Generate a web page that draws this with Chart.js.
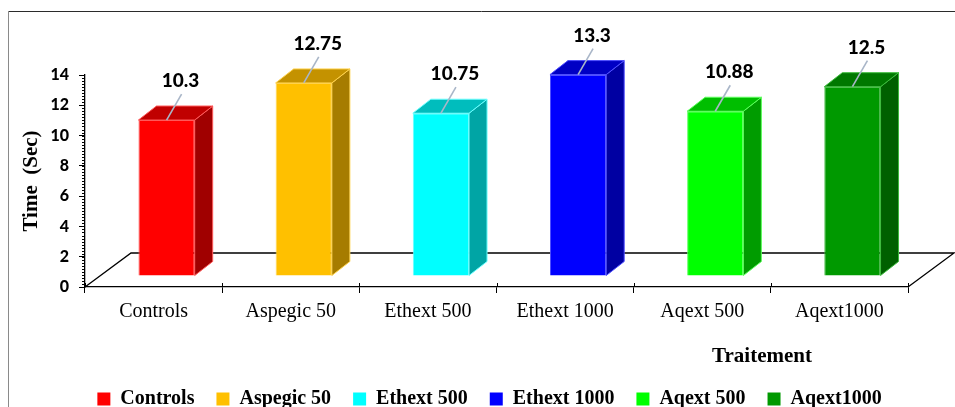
<!DOCTYPE html>
<html>
<head>
<meta charset="utf-8">
<script src="https://cdn.jsdelivr.net/npm/chart.js@4/dist/chart.umd.min.js"></script>
<style>
  html, body { margin: 0; padding: 0; background: #ffffff; }
  canvas { display: block; }
</style>
</head>
<body>
<canvas id="chart" width="955" height="407"></canvas>
<script>
// Treatment groups and mean response time (seconds)
const categories = ['Controls', 'Aspegic 50', 'Ethext 500', 'Ethext 1000', 'Aqext 500', 'Aqext1000'];
const times = [10.3, 12.75, 10.75, 13.3, 10.88, 12.5];
const yTicks = [0, 2, 4, 6, 8, 10, 12, 14];
const yTitle = 'Time  (Sec)';
const xTitle = 'Traitement';

// Face colours: front, top, side, edge
const frontColors = ['#FF0000', '#FFC000', '#00FFFF', '#0000FF', '#00FF00', '#009900'];
const topColors   = ['#C00000', '#C49200', '#00BDBD', '#0000C4', '#00BE00', '#007800'];
const sideColors  = ['#A00000', '#A67C00', '#00A5A5', '#0000A2', '#009C00', '#006000'];
const edgeColors  = ['#FF5A5A', '#FFD24D', '#6AFFFF', '#4D4DFF', '#5AFF5A', '#3DBB3D'];

// Oblique projection used for the pseudo-3D look
const FRONT_SHIFT = { x: 13, y: -11 };  // front face of bars relative to axis plane
const BAR_DEPTH   = { x: 18, y: -14 };  // depth of each column
const FLOOR_DEPTH = { x: 46, y: -34 };  // depth of the floor
const LEGEND_NUDGE = 28;                // legend sits right of the plot centre

const serif = '"Liberation Serif", "Times New Roman", serif';
const sans = 'Lato, "Open Sans", sans-serif';

const pseudo3d = {
  id: 'pseudo3d',
  afterLayout(chart) {
    if (chart.legend) {
      chart.legend.left += LEGEND_NUDGE;
      chart.legend.right += LEGEND_NUDGE;
    }
  },
  beforeDraw(chart) {
    const ctx = chart.ctx;
    ctx.save();
    ctx.lineWidth = 1;
    ctx.strokeStyle = '#2b2b2b';
    ctx.beginPath();
    ctx.moveTo(8, 11.5);
    ctx.lineTo(chart.width, 11.5);
    ctx.stroke();
    ctx.strokeStyle = '#8a8a8a';
    ctx.beginPath();
    ctx.moveTo(8.5, 11);
    ctx.lineTo(8.5, chart.height);
    ctx.stroke();
    ctx.restore();
  },
  beforeDatasetsDraw(chart) {
    const ctx = chart.ctx;
    const x = chart.scales.x;
    const y = chart.scales.y;
    const b = y.getPixelForValue(0);
    ctx.save();
    // floor
    ctx.strokeStyle = '#000000';
    ctx.lineWidth = 1.3;
    ctx.beginPath();
    ctx.moveTo(x.left, b);
    ctx.lineTo(x.left + FLOOR_DEPTH.x, b + FLOOR_DEPTH.y);
    ctx.lineTo(x.right + FLOOR_DEPTH.x, b + FLOOR_DEPTH.y);
    ctx.lineTo(x.right, b);
    ctx.stroke();
    // minor ticks on the value axis
    ctx.lineWidth = 1;
    for (let v = 0; v <= y.max + 1e-9; v += 0.2) {
      const py = Math.round(y.getPixelForValue(v)) + 0.5;
      ctx.beginPath();
      ctx.moveTo(y.right - 3, py);
      ctx.lineTo(y.right, py);
      ctx.stroke();
    }
    // category ticks reach slightly above the axis line
    const step = x.getPixelForTick(1) - x.getPixelForTick(0);
    for (let i = 0; i <= x.ticks.length; i++) {
      const px = Math.round(x.getPixelForTick(0) - step / 2 + i * step) + 0.5;
      ctx.beginPath();
      ctx.moveTo(px, b - 4);
      ctx.lineTo(px, b);
      ctx.stroke();
    }
    ctx.restore();
    // shift the front faces into the floor depth
    ctx.save();
    ctx.translate(FRONT_SHIFT.x, FRONT_SHIFT.y);
  },
  afterDatasetsDraw(chart) {
    const ctx = chart.ctx;
    ctx.restore();
    const meta = chart.getDatasetMeta(0);
    ctx.save();
    meta.data.forEach((bar, i) => {
      const p = bar.getProps(['x', 'y', 'base', 'width'], true);
      const l = p.x - p.width / 2 + FRONT_SHIFT.x;
      const r = p.x + p.width / 2 + FRONT_SHIFT.x;
      const t = p.y + FRONT_SHIFT.y;
      const bt = p.base + FRONT_SHIFT.y;
      // side face
      ctx.fillStyle = sideColors[i];
      ctx.beginPath();
      ctx.moveTo(r, t);
      ctx.lineTo(r + BAR_DEPTH.x, t + BAR_DEPTH.y);
      ctx.lineTo(r + BAR_DEPTH.x, bt + BAR_DEPTH.y);
      ctx.lineTo(r, bt);
      ctx.closePath();
      ctx.fill();
      ctx.strokeStyle = edgeColors[i];
      ctx.lineWidth = 1;
      ctx.stroke();
      // top face
      ctx.fillStyle = topColors[i];
      ctx.beginPath();
      ctx.moveTo(l, t);
      ctx.lineTo(l + BAR_DEPTH.x, t + BAR_DEPTH.y);
      ctx.lineTo(r + BAR_DEPTH.x, t + BAR_DEPTH.y);
      ctx.lineTo(r, t);
      ctx.closePath();
      ctx.fill();
      ctx.stroke();
      // value label with leader line
      const ax = (l + r) / 2;
      const lx = ax + 14;
      const ly = t - 39;
      ctx.strokeStyle = '#A9B6C8';
      ctx.lineWidth = 1.6;
      ctx.beginPath();
      ctx.moveTo(ax, t);
      ctx.lineTo(lx + 1, ly + 13);
      ctx.stroke();
      ctx.fillStyle = '#000000';
      ctx.font = '900 19px ' + sans;
      ctx.textAlign = 'center';
      ctx.textBaseline = 'middle';
      ctx.fillText(String(times[i]), lx, ly);
    });
    ctx.restore();
  },
  afterDraw(chart) {
    const ctx = chart.ctx;
    const x = chart.scales.x;
    ctx.save();
    ctx.fillStyle = '#000000';
    ctx.font = 'bold 21px ' + serif;
    ctx.textAlign = 'center';
    ctx.textBaseline = 'middle';
    ctx.fillText(xTitle, x.right - 146, 357);
    ctx.restore();
  }
};

new Chart(document.getElementById('chart'), {
  type: 'bar',
  data: {
    labels: categories,
    datasets: [{
      label: yTitle,
      data: times,
      backgroundColor: frontColors,
      borderColor: edgeColors,
      borderWidth: 1,
      barPercentage: 0.41,
      categoryPercentage: 1
    }]
  },
  options: {
    responsive: false,
    devicePixelRatio: 1,
    animation: false,
    layout: { padding: { left: 15, right: 47, top: 75, bottom: -12 } },
    plugins: {
      tooltip: { enabled: false },
      legend: {
        position: 'bottom',
        labels: {
          boxWidth: 13,
          boxHeight: 13,
          padding: 22,
          color: '#000000',
          font: { family: serif, size: 20, weight: 'bold' },
          generateLabels: () => categories.map((c, i) => ({
            text: c,
            fillStyle: frontColors[i],
            strokeStyle: frontColors[i],
            lineWidth: 0,
            hidden: false,
            index: i
          }))
        }
      }
    },
    scales: {
      x: {
        grid: { drawOnChartArea: false, offset: true, tickLength: 6, color: '#000000', tickColor: '#000000' },
        border: { color: '#000000', width: 1.3 },
        ticks: { color: '#000000', padding: 7, font: { family: serif, size: 20 } },
        afterFit(scale) { scale.height = 80; }
      },
      y: {
        min: 0,
        max: 14,
        afterBuildTicks(scale) { scale.ticks = yTicks.map(v => ({ value: v })); },
        grid: { drawOnChartArea: false, tickLength: 6, color: '#000000', tickColor: '#000000' },
        border: { color: '#000000', width: 1.3 },
        ticks: { color: '#000000', padding: 10, font: { family: sans, size: 16, weight: '900' } },
        title: {
          display: true,
          text: yTitle,
          color: '#000000',
          font: { family: serif, size: 21, weight: 'bold' }
        },
        afterFit(scale) { scale.width = 70; }
      }
    }
  },
  plugins: [pseudo3d]
});
</script>
</body>
</html>
